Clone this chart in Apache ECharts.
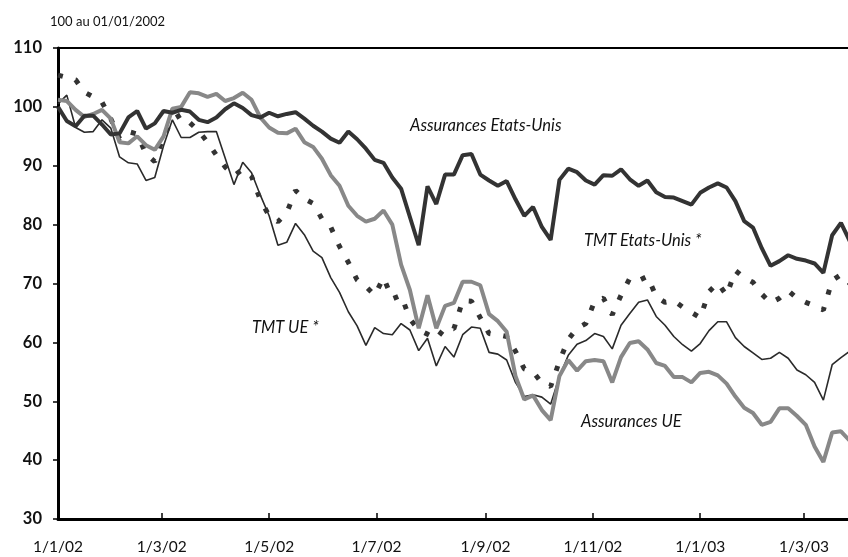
<!DOCTYPE html>
<html>
<head>
<meta charset="utf-8">
<script src="https://cdn.jsdelivr.net/npm/echarts@6/dist/echarts.min.js"></script>
<style>
  html, body { margin: 0; padding: 0; background: #fff; }
  #chart { width: 848px; height: 557px; }
</style>
</head>
<body>
<div id="chart"></div>
<script>
// jours depuis le 01/01/2002, un point tous les 5 jours
var startDay = 0, stepDays = 5, nPoints = 91;
var days = [];
for (var i = 0; i < nPoints; i++) days.push(startDay + i * stepDays);

// graduations de l'axe des dates
var tickDays = [0, 59, 120, 181, 243, 304, 365, 424];
var tickLabels = ['1/1/02', '1/3/02', '1/5/02', '1/7/02', '1/9/02', '1/11/02', '1/1/03', '1/3/03'];

var assurancesUS = [100, 97.6, 96.7, 98.5, 98.5, 97, 95.3, 95.5, 98.2, 99.3,
  96.3, 97.2, 99.3, 99, 99.5, 99.2, 97.8, 97.4, 98.2, 99.6,
  100.6, 99.8, 98.6, 98.2, 99, 98.4, 98.8, 99.1, 98, 96.8,
  95.8, 94.6, 93.9, 95.8, 94.5, 92.9, 91, 90.5, 88, 86.1,
  81.3, 76.5, 86.5, 83.5, 88.5, 88.5, 91.8, 92, 88.5, 87.5,
  86.6, 87.4, 84.3, 81.5, 83, 79.6, 77.4, 87.6, 89.5, 88.9,
  87.5, 86.8, 88.4, 88.3, 89.4, 87.7, 86.6, 87.5, 85.5, 84.7,
  84.6, 84, 83.4, 85.4, 86.3, 87, 86.3, 84, 80.6, 79.5,
  76, 73, 73.8, 74.8, 74.2, 73.9, 73.4, 71.8, 78.2, 80.3, 77.2];

var assurancesUE = [101.2, 101, 99.5, 98.3, 98.8, 99.5, 98, 94, 93.8, 95,
  93.5, 92.7, 95, 99.7, 100, 102.5, 102.3, 101.7, 102.2, 101,
  101.5, 102.4, 101.2, 98.2, 96.5, 95.6, 95.5, 96.3, 94, 93.2,
  91.2, 88.4, 86.6, 83.2, 81.5, 80.5, 81, 82.4, 80, 73.2,
  68.9, 62.4, 68, 62.4, 66.2, 66.7, 70.3, 70.3, 69.7, 64.8,
  63.6, 61.8, 54.3, 50.3, 51, 48.5, 46.8, 54.3, 57, 55.2,
  56.8, 57, 56.8, 53.2, 57.5, 59.9, 60.2, 58.8, 56.5, 56,
  54.1, 54.1, 53.2, 54.8, 55, 54.4, 53, 50.8, 48.9, 48,
  46, 46.5, 48.8, 48.8, 47.5, 46, 42.3, 39.7, 44.7, 44.9, 43.3];

var tmtUS = [105.4, 105, 104.6, 102.5, 101.7, 100.8, 98, 94.6, 95.8, 95.4,
  92, 90.7, 95, 97.8, 98.7, 97.3, 95.9, 94, 91.8, 89.8,
  88.3, 89.4, 88.2, 84.2, 81.5, 80.5, 82, 85.8, 84.4, 83.6,
  81, 79.6, 76.3, 73.6, 70.6, 69.5, 68, 71, 67.4, 68,
  64, 62.1, 61.4, 60.6, 62.5, 62.3, 67.1, 67, 64.2, 61.5,
  61.3, 61, 58.5, 55.5, 55, 53.1, 52.5, 56.8, 60.5, 62.4,
  63.2, 67, 67.5, 64.7, 68, 70.9, 70.5, 71.2, 67.8, 66.8,
  67.1, 66, 65.1, 64.2, 68.6, 70.1, 68, 72.2, 71, 70.2,
  68.2, 66.7, 67.5, 68.8, 67.5, 66.8, 66.2, 65.5, 70.5, 71.5, 70];

var tmtUE = [100.5, 102, 96.5, 95.7, 95.8, 97.8, 96.4, 91.5, 90.5, 90.3,
  87.5, 88, 93.4, 97.8, 94.8, 94.8, 95.7, 95.8, 95.8, 91.3,
  86.8, 90.6, 88.8, 85, 81.5, 76.5, 77, 80.2, 78.3, 75.5,
  74.4, 71, 68.5, 65.2, 62.8, 59.5, 62.5, 61.5, 61.3, 63.2,
  62.1, 58.6, 60.7, 56, 59.3, 57.5, 61.3, 62.6, 62.4, 58.3,
  58, 57, 53.2, 50.8, 51.1, 50.7, 49.5, 54.2, 57.8, 59.7,
  60.3, 61.5, 61, 58.9, 62.9, 64.9, 66.8, 67.2, 64.4, 62.9,
  61, 59.6, 58.5, 59.8, 62, 63.5, 63.5, 60.8, 59.3, 58.2,
  57.1, 57.3, 58.3, 57.3, 55.3, 54.5, 53.2, 50.2, 56.2, 57.4, 58.5];

function pairs(vals) {
  return vals.map(function (v, i) { return [days[i], v]; });
}

var chart = echarts.init(document.getElementById('chart'));
var font = 'Lato, "DejaVu Sans", sans-serif';
var italic = { fontFamily: font, fontStyle: 'italic', fontSize: 16.5, fill: '#111' };

var option = {
  backgroundColor: '#fff',
  animation: false,
  grid: { left: 58, right: 0, top: 48, bottom: 38 },
  xAxis: [{
    type: 'value',
    min: 0,
    max: 449,
    axisLine: { lineStyle: { color: '#000', width: 3 } },
    axisTick: { inside: true, length: 6, customValues: tickDays, lineStyle: { color: '#000', width: 1.5 } },
    axisLabel: {
      customValues: tickDays,
      margin: 20,
      fontFamily: font, fontSize: 15.5, color: '#111',
      formatter: function (v) { return tickLabels[tickDays.indexOf(v)]; }
    },
    splitLine: { show: false }
  }, {
    type: 'value',
    position: 'top',
    min: 0,
    max: 449,
    axisLine: { show: true, lineStyle: { color: '#000', width: 1.8 } },
    axisTick: { show: false },
    axisLabel: { show: false },
    splitLine: { show: false }
  }],
  yAxis: {
    type: 'value',
    min: 30,
    max: 110,
    interval: 10,
    axisLine: { show: true, lineStyle: { color: '#000', width: 3 } },
    axisTick: { show: true, length: 5, lineStyle: { color: '#000', width: 1.5 } },
    axisLabel: { margin: 16, fontFamily: font, fontSize: 16.5, fontWeight: 'bold', color: '#111' },
    splitLine: { show: false }
  },
  series: [
    {
      name: 'TMT UE *', type: 'line', data: pairs(tmtUE), showSymbol: false,
      lineStyle: { color: '#2a2a2a', width: 1.6 }, z: 2
    },
    {
      name: 'TMT Etats-Unis *', type: 'line', data: pairs(tmtUS), showSymbol: false,
      lineStyle: { color: '#333', width: 5, type: [5, 13], cap: 'butt' }, z: 3
    },
    {
      name: 'Assurances UE', type: 'line', data: pairs(assurancesUE), showSymbol: false,
      lineStyle: { color: '#888', width: 4 }, z: 4
    },
    {
      name: 'Assurances Etats-Unis', type: 'line', data: pairs(assurancesUS), showSymbol: false,
      lineStyle: { color: '#333', width: 4 }, z: 5
    }
  ],
  graphic: [
    { type: 'text', left: 50, top: 15, style: { text: '100 au 01/01/2002', fontFamily: font, fontSize: 13, fill: '#111' } },
    { type: 'text', left: 410, top: 117, style: Object.assign({ text: 'Assurances Etats-Unis' }, italic) },
    { type: 'text', left: 584, top: 232, style: Object.assign({ text: 'TMT Etats-Unis *' }, italic) },
    { type: 'text', left: 252, top: 319, style: Object.assign({ text: 'TMT UE *' }, italic) },
    { type: 'text', left: 581, top: 413, style: Object.assign({ text: 'Assurances UE' }, italic) }
  ]
};

chart.setOption(option);
</script>
</body>
</html>
